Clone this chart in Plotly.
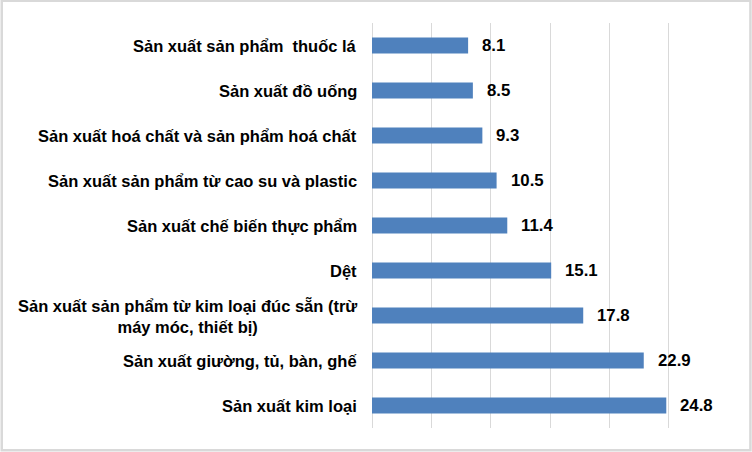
import plotly.graph_objects as go

categories = [
    "Sản xuất sản phẩm  thuốc lá",
    "Sản xuất đồ uống",
    "Sản xuất hoá chất và sản phẩm hoá chất",
    "Sản xuất sản phẩm từ cao su và plastic",
    "Sản xuất chế biến thực phẩm",
    "Dệt",
    "Sản xuất sản phẩm từ kim loại đúc sẵn (trừ<br>máy móc, thiết bị)",
    "Sản xuất giường, tủ, bàn, ghế",
    "Sản xuất kim loại",
]
values = [8.1, 8.5, 9.3, 10.5, 11.4, 15.1, 17.8, 22.9, 24.8]
value_labels = ["8.1", "8.5", "9.3", "10.5", "11.4", "15.1", "17.8", "22.9", "24.8"]

FONT = "Liberation Sans, Arial, sans-serif"
fig = go.Figure()
fig.add_trace(go.Bar(
    x=values, y=list(range(len(categories))), orientation="h",
    marker=dict(color="#4F81BD", line=dict(width=0)),
    width=0.36, hoverinfo="skip",
))

for i, (cat, v, lab) in enumerate(zip(categories, values, value_labels)):
    fig.add_annotation(x=0, y=i, xref="x", yref="y", text="<b>%s</b>" % cat,
                       xanchor="right", yanchor="middle", align="center",
                       xshift=-13, showarrow=False,
                       font=dict(family=FONT, size=16.5, color="#000000"))
    fig.add_annotation(x=v, y=i, xref="x", yref="y", text="<b>%s</b>" % lab,
                       xanchor="left", yanchor="middle", xshift=12,
                       showarrow=False,
                       font=dict(family=FONT, size=16.8, color="#000000"))

fig.add_shape(type="rect", xref="paper", yref="paper",
              x0=-1.040, x1=1.063, y0=-0.055, y1=1.055,
              line=dict(color="#D9D9D9", width=2.5), fillcolor="rgba(0,0,0,0)")

fig.update_layout(
    width=752, height=452,
    margin=dict(l=372, r=24, t=23, b=24),
    paper_bgcolor="white", plot_bgcolor="white",
    showlegend=False,
    hovermode=False,
    xaxis=dict(range=[0, 30], dtick=5, showgrid=True, gridcolor="#D9D9D9",
               gridwidth=1, showticklabels=False, zeroline=True,
               zerolinecolor="#D9D9D9", zerolinewidth=1, showline=False,
               fixedrange=True),
    yaxis=dict(range=[8.5, -0.5], showticklabels=False, showgrid=False,
               zeroline=False, showline=False, fixedrange=True),
)

fig.write_html("out.html", config={"displayModeBar": False, "staticPlot": True},
               post_script="document.body.style.margin='0';document.body.style.overflow='hidden';")
